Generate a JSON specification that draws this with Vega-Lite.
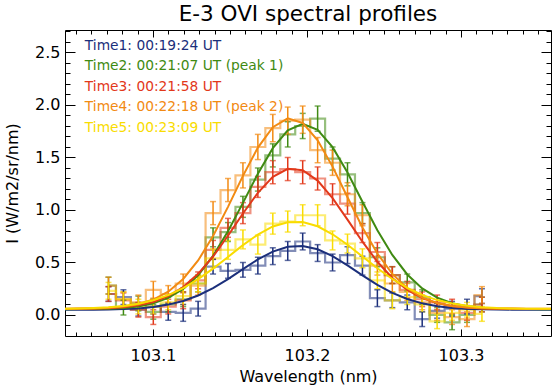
{
"$schema": "https://vega.github.io/schema/vega-lite/v6.json",
"width": 486, "height": 306,
"autosize": {"type": "none"},
"padding": {"left": 65, "top": 30, "right": 1, "bottom": 53},
"background": "white",
"config": {"view": {"stroke": "#000", "strokeWidth": 1}, "font": "DejaVu Sans"},
"title": {"text": "E-3 OVI spectral profiles", "fontSize": 21.5, "font": "DejaVu Sans", "fontWeight": "normal", "color": "#000", "anchor": "middle", "offset": -2},
"data": {"values": [
{"s":"T1","w":103.0420,"f":0.050},{"s":"T1","w":103.0517,"f":0.050},{"s":"T1","w":103.0614,"f":0.051},
{"s":"T1","w":103.0711,"I":0.20,"e":0.07,"f":0.053},{"s":"T1","w":103.0808,"I":0.17,"e":0.07,"f":0.056},{"s":"T1","w":103.0905,"I":0.05,"e":0.06,"f":0.063},{"s":"T1","w":103.1002,"I":0.08,"e":0.07,"f":0.076},{"s":"T1","w":103.1099,"I":0.03,"e":0.08,"f":0.099},{"s":"T1","w":103.1196,"I":0.02,"e":0.08,"f":0.134},{"s":"T1","w":103.1293,"I":0.06,"e":0.07,"f":0.186},{"s":"T1","w":103.1390,"I":0.46,"e":0.07,"f":0.256},{"s":"T1","w":103.1487,"I":0.42,"e":0.07,"f":0.342},{"s":"T1","w":103.1584,"I":0.43,"e":0.07,"f":0.437},{"s":"T1","w":103.1681,"I":0.47,"e":0.08,"f":0.529},{"s":"T1","w":103.1778,"I":0.56,"e":0.08,"f":0.604},{"s":"T1","w":103.1875,"I":0.61,"e":0.09,"f":0.650},{"s":"T1","w":103.1972,"I":0.70,"e":0.08,"f":0.658},{"s":"T1","w":103.2069,"I":0.59,"e":0.08,"f":0.626},{"s":"T1","w":103.2166,"I":0.50,"e":0.08,"f":0.561},{"s":"T1","w":103.2263,"I":0.57,"e":0.08,"f":0.473},{"s":"T1","w":103.2360,"I":0.47,"e":0.09,"f":0.378},{"s":"T1","w":103.2457,"I":0.16,"e":0.08,"f":0.287},{"s":"T1","w":103.2554,"I":0.14,"e":0.07,"f":0.211},{"s":"T1","w":103.2651,"I":0.12,"e":0.07,"f":0.152},{"s":"T1","w":103.2748,"I":-0.04,"e":0.07,"f":0.111},{"s":"T1","w":103.2845,"I":0.04,"e":0.07,"f":0.084},{"s":"T1","w":103.2942,"I":0.06,"e":0.07,"f":0.067},{"s":"T1","w":103.3039,"I":0.08,"e":0.07,"f":0.058},{"s":"T1","w":103.3136,"I":0.18,"e":0.07,"f":0.054},
{"s":"T1","w":103.3233,"f":0.052},{"s":"T1","w":103.3330,"f":0.051},{"s":"T1","w":103.3427,"f":0.050},{"s":"T1","w":103.3524,"f":0.050},{"s":"T1","w":103.3621,"f":0.050},

{"s":"T2","w":103.0420,"f":0.055},{"s":"T2","w":103.0517,"f":0.056},{"s":"T2","w":103.0614,"f":0.057},
{"s":"T2","w":103.0711,"I":0.28,"e":0.08,"f":0.060},{"s":"T2","w":103.0808,"I":0.07,"e":0.07,"f":0.067},{"s":"T2","w":103.0905,"I":0.11,"e":0.07,"f":0.082},{"s":"T2","w":103.1002,"I":0.03,"e":0.07,"f":0.111},{"s":"T2","w":103.1099,"I":0.10,"e":0.07,"f":0.163},{"s":"T2","w":103.1196,"I":0.15,"e":0.07,"f":0.248},{"s":"T2","w":103.1293,"I":0.30,"e":0.08,"f":0.379},{"s":"T2","w":103.1390,"I":0.74,"e":0.09,"f":0.563},{"s":"T2","w":103.1487,"I":0.79,"e":0.09,"f":0.797},{"s":"T2","w":103.1584,"I":1.03,"e":0.10,"f":1.068},{"s":"T2","w":103.1681,"I":1.29,"e":0.11,"f":1.345},{"s":"T2","w":103.1778,"I":1.52,"e":0.11,"f":1.589},{"s":"T2","w":103.1875,"I":1.72,"e":0.12,"f":1.758},{"s":"T2","w":103.1972,"I":1.80,"e":0.12,"f":1.820},{"s":"T2","w":103.2069,"I":1.87,"e":0.12,"f":1.763},{"s":"T2","w":103.2166,"I":1.49,"e":0.11,"f":1.598},{"s":"T2","w":103.2263,"I":1.34,"e":0.11,"f":1.356},{"s":"T2","w":103.2360,"I":0.97,"e":0.10,"f":1.079},{"s":"T2","w":103.2457,"I":0.55,"e":0.09,"f":0.808},{"s":"T2","w":103.2554,"I":0.38,"e":0.08,"f":0.572},{"s":"T2","w":103.2651,"I":0.31,"e":0.08,"f":0.386},{"s":"T2","w":103.2748,"I":0.17,"e":0.07,"f":0.253},{"s":"T2","w":103.2845,"I":0.00,"e":0.07,"f":0.165},{"s":"T2","w":103.2942,"I":-0.07,"e":0.07,"f":0.113},{"s":"T2","w":103.3039,"I":0.00,"e":0.07,"f":0.083},{"s":"T2","w":103.3136,"I":0.10,"e":0.07,"f":0.068},
{"s":"T2","w":103.3233,"f":0.060},{"s":"T2","w":103.3330,"f":0.057},{"s":"T2","w":103.3427,"f":0.056},{"s":"T2","w":103.3524,"f":0.055},{"s":"T2","w":103.3621,"f":0.055},

{"s":"T3","w":103.0420,"f":0.058},{"s":"T3","w":103.0517,"f":0.059},{"s":"T3","w":103.0614,"f":0.061},
{"s":"T3","w":103.0711,"I":0.20,"e":0.07,"f":0.065},{"s":"T3","w":103.0808,"I":0.14,"e":0.07,"f":0.074},{"s":"T3","w":103.0905,"I":0.05,"e":0.07,"f":0.092},{"s":"T3","w":103.1002,"I":-0.02,"e":0.07,"f":0.124},{"s":"T3","w":103.1099,"I":0.08,"e":0.07,"f":0.179},{"s":"T3","w":103.1196,"I":0.14,"e":0.08,"f":0.266},{"s":"T3","w":103.1293,"I":0.33,"e":0.08,"f":0.392},{"s":"T3","w":103.1390,"I":0.62,"e":0.09,"f":0.557},{"s":"T3","w":103.1487,"I":0.83,"e":0.09,"f":0.755},{"s":"T3","w":103.1584,"I":0.97,"e":0.10,"f":0.967},{"s":"T3","w":103.1681,"I":1.22,"e":0.10,"f":1.164},{"s":"T3","w":103.1778,"I":1.36,"e":0.11,"f":1.315},{"s":"T3","w":103.1875,"I":1.39,"e":0.11,"f":1.392},{"s":"T3","w":103.1972,"I":1.36,"e":0.11,"f":1.379},{"s":"T3","w":103.2069,"I":1.30,"e":0.11,"f":1.280},{"s":"T3","w":103.2166,"I":1.15,"e":0.10,"f":1.113},{"s":"T3","w":103.2263,"I":1.06,"e":0.10,"f":0.908},{"s":"T3","w":103.2360,"I":0.78,"e":0.09,"f":0.698},{"s":"T3","w":103.2457,"I":0.60,"e":0.09,"f":0.507},{"s":"T3","w":103.2554,"I":0.38,"e":0.08,"f":0.353},{"s":"T3","w":103.2651,"I":0.24,"e":0.08,"f":0.238},{"s":"T3","w":103.2748,"I":0.15,"e":0.07,"f":0.161},{"s":"T3","w":103.2845,"I":0.12,"e":0.07,"f":0.113},{"s":"T3","w":103.2942,"I":0.08,"e":0.07,"f":0.085},{"s":"T3","w":103.3039,"I":0.02,"e":0.07,"f":0.071},{"s":"T3","w":103.3136,"I":0.10,"e":0.07,"f":0.063},
{"s":"T3","w":103.3233,"f":0.060},{"s":"T3","w":103.3330,"f":0.059},{"s":"T3","w":103.3427,"f":0.058},{"s":"T3","w":103.3524,"f":0.058},{"s":"T3","w":103.3621,"f":0.058},

{"s":"T4","w":103.0420,"f":0.060},{"s":"T4","w":103.0517,"f":0.061},{"s":"T4","w":103.0614,"f":0.063},
{"s":"T4","w":103.0711,"I":0.28,"e":0.08,"f":0.069},{"s":"T4","w":103.0808,"I":0.15,"e":0.07,"f":0.080},{"s":"T4","w":103.0905,"I":0.12,"e":0.07,"f":0.103},{"s":"T4","w":103.1002,"I":0.24,"e":0.08,"f":0.147},{"s":"T4","w":103.1099,"I":0.20,"e":0.08,"f":0.222},{"s":"T4","w":103.1196,"I":0.30,"e":0.09,"f":0.343},{"s":"T4","w":103.1293,"I":0.28,"e":0.09,"f":0.519},{"s":"T4","w":103.1390,"I":0.97,"e":0.11,"f":0.752},{"s":"T4","w":103.1487,"I":1.19,"e":0.11,"f":1.030},{"s":"T4","w":103.1584,"I":1.33,"e":0.12,"f":1.325},{"s":"T4","w":103.1681,"I":1.60,"e":0.12,"f":1.594},{"s":"T4","w":103.1778,"I":1.78,"e":0.13,"f":1.789},{"s":"T4","w":103.1875,"I":1.85,"e":0.13,"f":1.873},{"s":"T4","w":103.1972,"I":1.86,"e":0.13,"f":1.829},{"s":"T4","w":103.2069,"I":1.57,"e":0.12,"f":1.664},{"s":"T4","w":103.2166,"I":1.45,"e":0.12,"f":1.413},{"s":"T4","w":103.2263,"I":1.15,"e":0.11,"f":1.121},{"s":"T4","w":103.2360,"I":0.95,"e":0.10,"f":0.834},{"s":"T4","w":103.2457,"I":0.47,"e":0.09,"f":0.585},{"s":"T4","w":103.2554,"I":0.30,"e":0.08,"f":0.391},{"s":"T4","w":103.2651,"I":0.22,"e":0.08,"f":0.254},{"s":"T4","w":103.2748,"I":0.12,"e":0.07,"f":0.166},{"s":"T4","w":103.2845,"I":0.02,"e":0.07,"f":0.114},{"s":"T4","w":103.2942,"I":-0.02,"e":0.07,"f":0.085},{"s":"T4","w":103.3039,"I":-0.04,"e":0.07,"f":0.071},{"s":"T4","w":103.3136,"I":0.19,"e":0.08,"f":0.065},
{"s":"T4","w":103.3233,"f":0.062},{"s":"T4","w":103.3330,"f":0.061},{"s":"T4","w":103.3427,"f":0.060},{"s":"T4","w":103.3524,"f":0.060},{"s":"T4","w":103.3621,"f":0.060},

{"s":"T5","w":103.0420,"f":0.060},{"s":"T5","w":103.0517,"f":0.062},{"s":"T5","w":103.0614,"f":0.066},
{"s":"T5","w":103.0711,"I":0.23,"e":0.08,"f":0.073},{"s":"T5","w":103.0808,"I":0.15,"e":0.07,"f":0.086},{"s":"T5","w":103.0905,"I":0.08,"e":0.07,"f":0.108},{"s":"T5","w":103.1002,"I":0.08,"e":0.07,"f":0.141},{"s":"T5","w":103.1099,"I":0.12,"e":0.07,"f":0.189},{"s":"T5","w":103.1196,"I":0.18,"e":0.08,"f":0.256},{"s":"T5","w":103.1293,"I":0.30,"e":0.08,"f":0.341},{"s":"T5","w":103.1390,"I":0.54,"e":0.09,"f":0.442},{"s":"T5","w":103.1487,"I":0.62,"e":0.09,"f":0.553},{"s":"T5","w":103.1584,"I":0.72,"e":0.09,"f":0.665},{"s":"T5","w":103.1681,"I":0.67,"e":0.09,"f":0.766},{"s":"T5","w":103.1778,"I":0.87,"e":0.10,"f":0.843},{"s":"T5","w":103.1875,"I":0.89,"e":0.10,"f":0.884},{"s":"T5","w":103.1972,"I":0.95,"e":0.10,"f":0.885},{"s":"T5","w":103.2069,"I":0.95,"e":0.10,"f":0.845},{"s":"T5","w":103.2166,"I":0.71,"e":0.09,"f":0.769},{"s":"T5","w":103.2263,"I":0.68,"e":0.09,"f":0.669},{"s":"T5","w":103.2360,"I":0.54,"e":0.09,"f":0.557},{"s":"T5","w":103.2457,"I":0.33,"e":0.08,"f":0.445},{"s":"T5","w":103.2554,"I":0.14,"e":0.08,"f":0.343},{"s":"T5","w":103.2651,"I":0.17,"e":0.07,"f":0.258},{"s":"T5","w":103.2748,"I":0.10,"e":0.07,"f":0.191},{"s":"T5","w":103.2845,"I":-0.06,"e":0.07,"f":0.142},{"s":"T5","w":103.2942,"I":0.02,"e":0.07,"f":0.109},{"s":"T5","w":103.3039,"I":0.05,"e":0.07,"f":0.087},{"s":"T5","w":103.3136,"I":0.01,"e":0.07,"f":0.074},
{"s":"T5","w":103.3233,"f":0.066},{"s":"T5","w":103.3330,"f":0.062},{"s":"T5","w":103.3427,"f":0.060},{"s":"T5","w":103.3524,"f":0.059},{"s":"T5","w":103.3621,"f":0.058}
]},
"layer": [
{
"mark": {"type": "line", "interpolate": "step", "strokeWidth": 2.2, "opacity": 0.55},
"transform": [{"filter": "isValid(datum.I)"}],
"encoding": {
"x": {"field": "w", "type": "quantitative", "scale": {"domain": [103.04286, 103.35844], "nice": false, "zero": false},
 "axis": {"orient": "bottom", "domain": false, "ticks": false,
  "values": [103.05,103.06,103.07,103.08,103.09,103.1,103.11,103.12,103.13,103.14,103.15,103.16,103.17,103.18,103.19,103.2,103.21,103.22,103.23,103.24,103.25,103.26,103.27,103.28,103.29,103.3,103.31,103.32,103.33,103.34,103.35],
  "grid": true, "gridColor": "#000", "gridWidth": 1, "gridOpacity": 1,
  "gridDash": {"condition": {"test": "abs(datum.value*10-round(datum.value*10))<0.001", "value": [7, 292, 7, 1000]}, "value": [4, 298, 4, 1000]},
  "labelExpr": "abs(datum.value*10-round(datum.value*10))<0.001 ? format(datum.value,'.1f') : ''",
  "labelOverlap": false, "labelFlush": false, "labelBound": false,
  "labelFontSize": 16, "labelColor": "#000", "labelPadding": 11,
  "title": "Wavelength (nm)", "titleFontSize": 16, "titleFontWeight": "normal", "titleColor": "#000", "titlePadding": 5}},
"y": {"field": "I", "type": "quantitative", "scale": {"domain": [-0.2, 2.714], "nice": false, "zero": false},
 "axis": {"orient": "left", "domain": false, "ticks": false,
  "values": [-0.1,0,0.1,0.2,0.3,0.4,0.5,0.6,0.7,0.8,0.9,1,1.1,1.2,1.3,1.4,1.5,1.6,1.7,1.8,1.9,2,2.1,2.2,2.3,2.4,2.5,2.6,2.7],
  "grid": true, "gridColor": "#000", "gridWidth": 1, "gridOpacity": 1,
  "gridDash": {"condition": {"test": "abs(datum.value*2-round(datum.value*2))<0.001", "value": [10, 466, 10, 1000]}, "value": [5, 476, 5, 1000]},
  "labelExpr": "abs(datum.value*2-round(datum.value*2))<0.001 ? format(datum.value,'.1f') : ''",
  "labelOverlap": false, "labelFlush": false, "labelBound": false,
  "labelFontSize": 16, "labelColor": "#000", "labelPadding": 5,
  "title": "I (W/m2/sr/nm)", "titleFontSize": 16, "titleFontWeight": "normal", "titleColor": "#000", "titlePadding": 14}},
"color": {"field": "s", "type": "nominal",
 "scale": {"domain": ["T1","T2","T3","T4","T5"], "range": ["#1b2f7b","#3f8a12","#e2381a","#f28a12","#f9dc00"]},
 "legend": {"orient": "none", "legendX": 6, "legendY": 9, "title": null, "padding": 0,
  "symbolSize": 0, "symbolOpacity": 0, "symbolStrokeWidth": 0, "labelOffset": 0,
  "labelFontSize": 13.8, "labelLimit": 0, "rowPadding": 5.5,
  "labelExpr": "datum.label=='T1' ? 'Time1: 00:19:24 UT' : datum.label=='T2' ? 'Time2: 00:21:07 UT (peak 1)' : datum.label=='T3' ? 'Time3: 00:21:58 UT' : datum.label=='T4' ? 'Time4: 00:22:18 UT (peak 2)' : 'Time5: 00:23:09 UT'",
  "encode": {"labels": {"update": {"fill": {"scale": "color", "field": "value"}}}}}}
}
},
{
"mark": {"type": "errorbar", "ticks": {"size": 6}, "thickness": 1.5},
"transform": [{"filter": "isValid(datum.I)"}],
"encoding": {
"x": {"field": "w", "type": "quantitative", "scale": {"domain": [103.04286, 103.35844], "nice": false, "zero": false}, "axis": null},
"y": {"field": "I", "type": "quantitative", "scale": {"domain": [-0.2, 2.714], "nice": false, "zero": false}, "axis": null},
"yError": {"field": "e"},
"color": {"field": "s", "type": "nominal", "legend": null}
}
},
{
"mark": {"type": "line", "strokeWidth": 2, "clip": true},
"encoding": {
"x": {"field": "w", "type": "quantitative", "scale": {"domain": [103.04286, 103.35844], "nice": false, "zero": false}, "axis": null},
"y": {"field": "f", "type": "quantitative", "scale": {"domain": [-0.2, 2.714], "nice": false, "zero": false}, "axis": null},
"color": {"field": "s", "type": "nominal", "legend": null}
}
}
],
"resolve": {"axis": {"x": "independent", "y": "independent"}}
}
